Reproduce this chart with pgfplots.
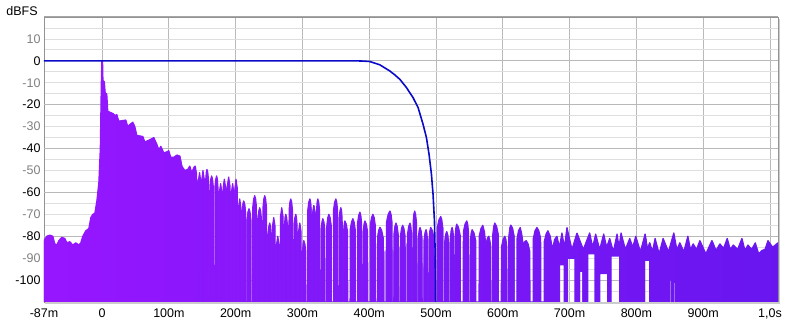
\documentclass[border=0pt]{standalone}
\usepackage{pgfplots}
\usepackage{pgfplotstable}
\pgfplotsset{compat=1.18}
\usepackage{fontspec}
\setmainfont{Liberation Sans}
\definecolor{purpA}{RGB}{150,22,255}
\definecolor{purpB}{RGB}{122,28,244}
\definecolor{purpC}{RGB}{104,22,240}
\definecolor{sA}{RGB}{147,23,254}
\definecolor{sB}{RGB}{142,24,252}
\definecolor{sC}{RGB}{137,25,250}
\definecolor{sD}{RGB}{132,26,248}
\definecolor{sE}{RGB}{127,27,246}
\definecolor{sF}{RGB}{122,28,244}
\definecolor{sG}{RGB}{119,27,243}
\definecolor{sH}{RGB}{115,26,242}
\definecolor{sI}{RGB}{112,25,242}
\definecolor{sJ}{RGB}{109,24,241}
\definecolor{sK}{RGB}{106,23,240}
\definecolor{winblue}{RGB}{10,10,200}
\definecolor{labgray}{RGB}{128,128,128}
\definecolor{gridmaj}{RGB}{185,185,185}
\definecolor{gridmin}{RGB}{222,222,222}
\definecolor{lightpurp}{RGB}{190,130,250}

\pgfplotstableread{
x y
-87 -110
-87 -82
-82.8 -80
-78.3 -79.5
-73.8 -80
-70.8 -83.5
-67.8 -84
-64.8 -82
-60.3 -80.5
-55.8 -81
-52.8 -83
-48.3 -82.5
-43.9 -84
-39.4 -83
-34.9 -84
-31.9 -83
-28.9 -80
-24.4 -77.5
-19.9 -76.5
-16.9 -71.5
-13.9 -70
-10.9 -69.5
-7.9 -64
-4.9 -55.5
-2.7 -40
-1.2 -10
-0.4 0
0.7 0
1.3 -9
3.3 -9.5
4.8 -15
7.0 -15
8.5 -23
16.0 -24
19.0 -25
22.0 -24.5
25.0 -27.5
35.5 -27
38.5 -30
41.5 -29
46.0 -28
49.0 -30
52.0 -34
61.0 -34.5
64.0 -37
71.4 -36
77.4 -35
81.9 -38
84.9 -40.5
87.9 -39
92.4 -42
96.9 -41.5
99.8 -41
102.8 -44
107.3 -44
111.8 -43
116.3 -43.5
119.3 -48
123.8 -50
128.3 -49.5
131.3 -48
134.3 -51
137.5 -48.5
139.5 -48
141.55 -52
141.75 -110
143.75 -110
143.95 -55
146 -51
147.55 -55
147.75 -110
149.25 -110
149.45 -54
151 -50
152.9 -54
153.1 -110
154.9 -110
155.1 -54.5
155.95 -51
157 -49.5
158.25 -51
159.3 -54.5
159.5 -110
161.5 -110
161.7 -57.5
162.75 -54
164 -52.5
165.35 -54
166.5 -57.5
166.7 -110
168.8 -110
169 -57.5
170.15 -54
171.5 -52.5
172.55 -54
173.4 -57.5
173.6 -110
175.4 -110
175.6 -60
177.5 -56
179.3 -60
179.5 -110
181 -110
181.2 -58
183 -54
185.05 -58
185.25 -110
187.25 -110
187.45 -57
189.5 -53
191.4 -57
191.6 -110
193.4 -110
193.6 -60
195.5 -56
197.05 -60
197.25 -110
198.75 -110
198.95 -58
200.5 -54
202.3 -58
202.5 -110
204 -110
204.2 -67
206 -63
207.9 -67
208.1 -110
209.9 -110
210.1 -69
210.95 -65.5
212 -64
213.4 -65.5
214.6 -69
214.8 -110
217.2 -110
217.4 -72.5
218.6 -69
220 -67.5
221.5 -69
222.8 -72.5
223 -110
225.5 -110
225.7 -66.5
227 -63
228.5 -61.5
229.85 -63
231 -66.5
231.2 -110
233.3 -110
233.5 -72
234.65 -68.5
236 -67
237.35 -68.5
238.5 -72
238.7 -110
240.8 -110
241 -66.5
242.15 -63
243.5 -61.5
244.85 -63
246 -66.5
246.2 -110
248.3 -110
248.5 -79
249.65 -75.5
251 -74
252.05 -75.5
252.9 -79
253.1 -110
254.9 -110
255.1 -75.5
257 -71.5
258.9 -75.5
259.1 -110
260.9 -110
261.1 -84
263 -80
264.9 -84
265.1 -110
266.9 -110
267.1 -71
269 -67
270.9 -71
271.1 -110
272.9 -110
273.1 -75
273.95 -71.5
275 -70
276.35 -71.5
277.5 -75
277.7 -110
279.8 -110
280 -68
281.15 -64.5
282.5 -63
283.85 -64.5
285 -68
285.2 -110
287.3 -110
287.5 -75
288.65 -71.5
290 -70
291.05 -71.5
291.9 -75
292.1 -110
293.9 -110
294.1 -78
296 -74
297.9 -78
298.1 -110
299.9 -110
300.1 -87
300.95 -83.5
302 -82
303.6 -83.5
305 -87
305.2 -110
307.8 -110
308 -68
309.4 -64.5
311 -63
312.05 -64.5
312.9 -68
313.1 -110
314.9 -110
315.1 -70
317 -66
318.9 -70
319.1 -110
320.9 -110
321.1 -68
321.95 -64.5
323 -63
324.35 -64.5
325.5 -68
325.7 -110
327.8 -110
328 -77
329.15 -73.5
330.5 -72
332.1 -73.5
333.5 -77
333.7 -110
336.3 -110
336.5 -75
337.9 -71.5
339.5 -70
341.35 -71.5
343 -75
343.2 -110
346.3 -110
346.5 -68
348.15 -64.5
350 -63
351.35 -64.5
352.5 -68
352.7 -110
354.8 -110
355 -72
356.15 -68.5
357.5 -67
358.55 -68.5
359.4 -72
359.6 -110
361.4 -110
361.6 -78
362.45 -74.5
363.5 -73
365.6 -74.5
367.5 -78
367.7 -110
371.3 -110
371.5 -77
373.4 -73.5
375.5 -72
377.35 -73.5
379 -77
379.2 -110
382.3 -110
382.5 -74
384.15 -70.5
386 -69
387.35 -70.5
388.5 -74
388.7 -110
390.8 -110
391 -78
392.15 -74.5
393.5 -73
395.6 -74.5
397.5 -78
397.7 -110
401.3 -110
401.5 -75
403.4 -71.5
405.5 -70
407.35 -71.5
409 -75
409.2 -110
412.3 -110
412.5 -81
414.15 -77.5
416 -76
418.65 -77.5
421.1 -81
421.3 -110
425.7 -110
425.9 -73.5
428.35 -70
431 -68.5
432.6 -70
434 -73.5
434.2 -110
436.8 -110
437 -79
438.4 -75.5
440 -74
441.75 -75.5
443.3 -79
443.5 -110
446.5 -110
446.7 -80
448.25 -76.5
450 -75
451.95 -76.5
453.7 -80
453.9 -110
457.1 -110
457.3 -79
459.05 -75.5
461 -74
462.25 -75.5
463.3 -79
463.5 -110
465.5 -110
465.7 -73.5
466.75 -70
468 -68.5
469.4 -70
470.6 -73.5
470.8 -110
473.2 -110
473.4 -81
474.6 -77.5
476 -76
477.6 -77.5
479 -81
479.2 -110
481.8 -110
482 -82
483.4 -78.5
485 -77
486.25 -78.5
487.3 -82
487.5 -110
489.5 -110
489.7 -81
490.75 -77.5
492 -76
494.65 -77.5
497.1 -81
497.3 -110
501.7 -110
501.9 -76
504.35 -72.5
507 -71
508.6 -72.5
510 -76
510.2 -110
512.8 -110
513 -83
514.4 -79.5
516 -78
517.4 -79.5
518.6 -83
518.8 -110
521.2 -110
521.4 -81
522.6 -77.5
524 -76
525.25 -77.5
526.3 -81
526.5 -110
528.5 -110
528.7 -79.5
529.75 -76
531 -74.5
533.65 -76
536.1 -79.5
536.3 -110
540.7 -110
540.9 -78
543.35 -74.5
546 -73
547.4 -74.5
548.6 -78
548.8 -110
551.2 -110
551.4 -82
552.6 -78.5
554 -77
556.8 -78.5
559.4 -82
559.6 -110
564.4 -110
564.6 -80
567.2 -76.5
570 -75
572.5 -78
574.5 -84
576.8 -81
579 -80
580.6 -82
582 -85
582.2 -110
584.8 -110
585 -79
586.4 -75.5
588 -74
590.65 -75.5
593.1 -79
593.3 -110
597.7 -110
597.9 -85
600.35 -81.5
603 -80
604.6 -81.5
606 -85
606.2 -110
608.8 -110
609 -80
610.4 -76.5
612 -75
614.45 -76.5
616.7 -80
616.9 -110
621.1 -110
621.3 -81
623.5 -77.5
626 -76
628.3 -79
630.5 -84
632.8 -82.5
635 -82
637.8 -83.5
640.4 -87
640.6 -110
645.4 -110
645.6 -81
648.2 -77.5
651 -76
653.9 -77.5
656.6 -81
656.8 -110
661.8 -110
662 -82.5
664.7 -79
667.5 -77.5
671 -80
674.25 -86
677.5 -81.5
681 -80
684.75 -85
688.5 -78.5
692.25 -85
696 -76
703.5 -86
711 -78.5
720.5 -86
730 -78.5
734.5 -85
739 -79
745 -86
751 -79
755.5 -85
760 -81
765.5 -87
771 -79
774 -85
777 -78.5
783.5 -86
790 -81
794.5 -85
799 -80
806 -87
813 -79
816.5 -86
820 -83
824 -87
828 -81
834 -88
840 -81
848 -87
856 -78.5
860.5 -86
865 -83
871 -87
877 -80
881 -86
885 -83.5
890 -86
895 -82
904 -88
913 -82
919 -86.5
925 -83.5
930.5 -85.5
936 -81
940.5 -86
945 -84
951.5 -86
958 -81
962.5 -86.5
967 -84
972.5 -86
978 -83
983 -88
988 -86.5
992.5 -86
997 -82
1004 -85
1012 -83
1012 -110
858.5 -110
858.5 -101
856 -101
856 -110
852.5 -110
852.5 -100
850 -100
850 -110
820 -110
820 -91
812 -91
812 -110
775 -110
775 -89
762 -89
762 -110
757 -110
757 -97
745 -97
745 -110
738 -110
738 -88
727 -88
727 -110
720 -110
720 -96
715 -96
715 -110
708 -110
708 -90
697 -90
697 -110
692 -110
692 -93
685 -93
685 -110
}\envtable

\pgfplotstableread{
x y
-87 0
380 0
390 -0.1
400.7 -0.3
415.7 -1.8
430.7 -4.6
438.2 -6.4
445.7 -8.4
455.7 -12.2
465.6 -16.8
473.1 -21.3
480.5 -28.9
485.6 -35
489.5 -42.6
493.1 -51.7
495.5 -60.9
497.6 -73
498.5 -85.2
499.1 -100
499.3 -112
}\wintable

\pgfplotsset{envstroke/.style={line width=1.2pt, line join=round, no markers, unbounded coords=jump, forget plot}}

\begin{document}
\begin{tikzpicture}
\useasboundingbox (-44pt,-25pt) rectangle (756pt,302pt);
\begin{axis}[
  at={(0pt,0pt)}, anchor=south west,
  scale only axis, width=734pt, height=285pt,
  xmin=-87, xmax=1012, ymin=-110, ymax=20,
  axis line style={draw=gray!85, line width=0.9pt},
  xtick={-87,0,100,200,300,400,500,600,700,800,900,1000},
  xticklabels={-87m,0,100m,200m,300m,400m,500m,600m,700m,800m,900m,{1,0s}},
  ytick={-100,-90,...,10},
  yticklabels={-100,{\color{labgray}-90},-80,{\color{labgray}-70},-60,{\color{labgray}-50},-40,{\color{labgray}-30},-20,{\color{labgray}-10},0,{\color{labgray}10}},
  minor ytick={-105,-100,...,15},
  major tick length=0pt, minor tick length=0pt,
  tick label style={font=\fontsize{12.5}{14}\selectfont},
  xticklabel style={yshift=-3pt},
  xmajorgrids, yminorgrids,
  major grid style={draw=gridmaj, line width=0.8pt},
  minor grid style={draw=gridmin, line width=0.8pt},
  extra y ticks={-100,-80,-60,-40,-20,0},
  extra y tick labels={},
  extra y tick style={grid=major, major grid style={draw=gridmaj, line width=0.8pt}},
]
\addplot[draw=none, fill=lightpurp] coordinates {
(412,-110) (412,-96) (418,-90) (424,-86) (428,-92) (432,-84) (438,-88) (444,-84)
(450,-88) (456,-83) (462,-90) (468,-86) (474,-95) (480,-92) (486,-102) (492,-110)
} -- cycle;
\addplot[draw=none, left color=purpA, middle color=purpB, right color=purpC]
  table[x=x, y=y] {\envtable} -- cycle;
\addplot[envstroke, draw=sA, restrict x to domain=-90:20] table[x=x, y=y] {\envtable};
\addplot[envstroke, draw=sB, restrict x to domain=10:120] table[x=x, y=y] {\envtable};
\addplot[envstroke, draw=sC, restrict x to domain=110:220] table[x=x, y=y] {\envtable};
\addplot[envstroke, draw=sD, restrict x to domain=210:320] table[x=x, y=y] {\envtable};
\addplot[envstroke, draw=sE, restrict x to domain=310:420] table[x=x, y=y] {\envtable};
\addplot[envstroke, draw=sF, restrict x to domain=410:520] table[x=x, y=y] {\envtable};
\addplot[envstroke, draw=sG, restrict x to domain=510:620] table[x=x, y=y] {\envtable};
\addplot[envstroke, draw=sH, restrict x to domain=610:720] table[x=x, y=y] {\envtable};
\addplot[envstroke, draw=sI, restrict x to domain=710:820] table[x=x, y=y] {\envtable};
\addplot[envstroke, draw=sJ, restrict x to domain=810:920] table[x=x, y=y] {\envtable};
\addplot[envstroke, draw=sK, restrict x to domain=910:1015] table[x=x, y=y] {\envtable};
\addplot[winblue, line width=1.6pt, no markers] table[x=x, y=y] {\wintable};
\end{axis}
\draw[black!20, line width=1.6pt] (735.6pt,283pt) -- (735.6pt,-1.2pt) -- (1pt,-1.2pt);
\draw[gray!70, line width=1.2pt] (0pt,285.3pt) -- (734pt,285.3pt);
\node[font=\fontsize{12.5}{14}\selectfont] at (-22pt,291pt) {dBFS};
\end{tikzpicture}
\end{document}
